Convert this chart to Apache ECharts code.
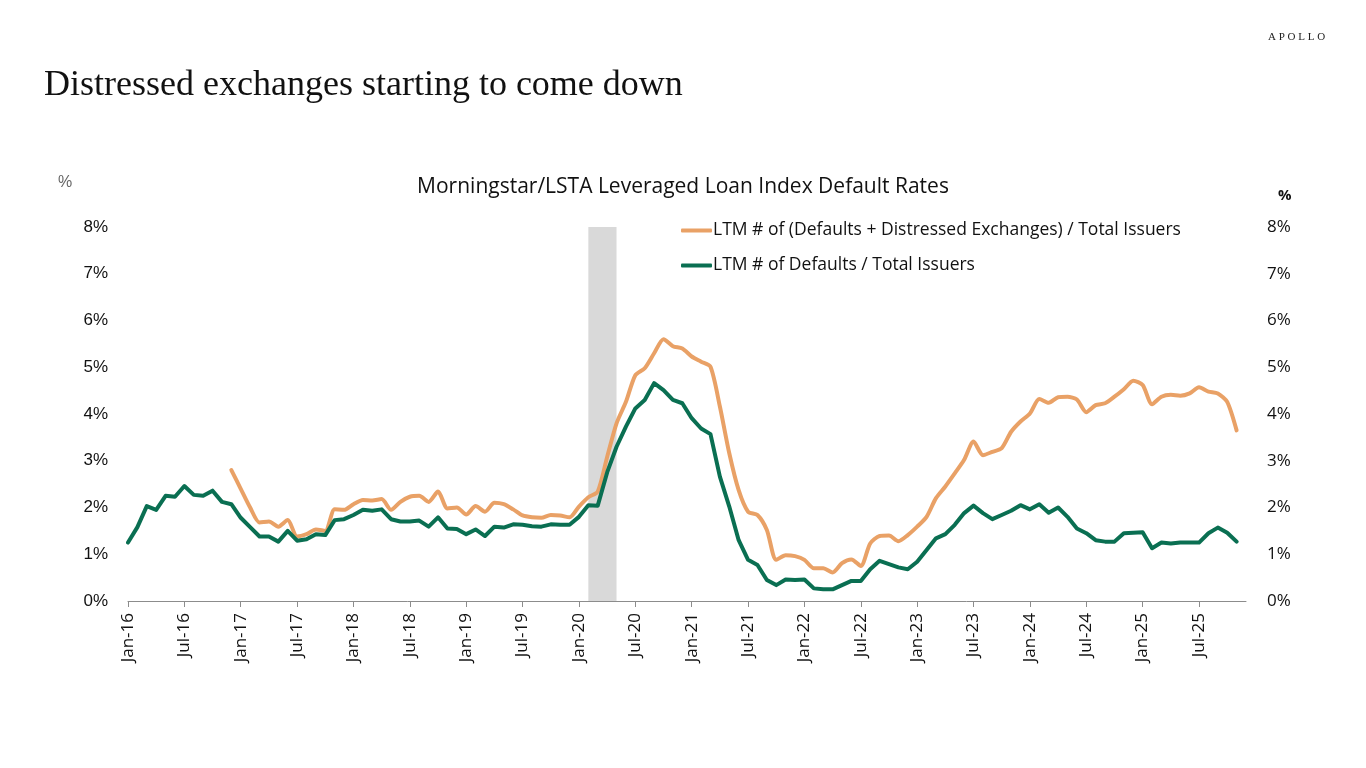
<!DOCTYPE html>
<html>
<head>
<meta charset="utf-8">
<title>Distressed exchanges starting to come down</title>
<script src="https://cdn.jsdelivr.net/npm/echarts@6/dist/echarts.min.js"></script>
<style>
    html, body { margin: 0; padding: 0; background: #fff; }
    #main { width: 1366px; height: 768px; }
</style>
</head>
<body>
<div id="main"></div>
<script>
// month labels Jan-16 .. Dec-25
var monthNames = ['Jan','Feb','Mar','Apr','May','Jun','Jul','Aug','Sep','Oct','Nov','Dec'];
var years = ['16','17','18','19','20','21','22','23','24','25'];
var categories = [];
years.forEach(function(y){
    monthNames.forEach(function(m){ categories.push(m + '-' + y); });
});

// LTM # of Defaults / Total Issuers (Jan-16 ..)
var defaultsRate = [
    1.25, 1.58, 2.03, 1.95, 2.25, 2.23, 2.46, 2.27, 2.25, 2.36,
    2.12, 2.07, 1.78, 1.58, 1.38, 1.38, 1.27, 1.50, 1.29, 1.32,
    1.43, 1.41, 1.73, 1.75, 1.84, 1.95, 1.93, 1.96, 1.75, 1.70,
    1.70, 1.72, 1.59, 1.79, 1.55, 1.54, 1.43, 1.53, 1.39, 1.59,
    1.57, 1.64, 1.63, 1.60, 1.59, 1.64, 1.63, 1.63, 1.80, 2.05,
    2.04, 2.75, 3.30, 3.73, 4.12, 4.30, 4.66, 4.51, 4.30, 4.23,
    3.91, 3.69, 3.57, 2.66, 2.02, 1.30, 0.88, 0.77, 0.45, 0.34,
    0.46, 0.45, 0.46, 0.27, 0.25, 0.25, 0.34, 0.43, 0.43, 0.68,
    0.86, 0.79, 0.72, 0.68, 0.84, 1.09, 1.34, 1.43, 1.63, 1.88,
    2.04, 1.88, 1.75, 1.84, 1.93, 2.05, 1.96, 2.07, 1.89, 2.00,
    1.80, 1.55, 1.45, 1.30, 1.27, 1.27, 1.45, 1.46, 1.47, 1.13,
    1.25, 1.23, 1.25, 1.25, 1.25, 1.45, 1.57, 1.46, 1.27
];

// LTM # of (Defaults + Distressed Exchanges) / Total Issuers, starts Dec-16
var distressedRate = [
    null, null, null, null, null, null, null, null, null, null, null,
    2.80, 2.40, 2.00, 1.68, 1.70, 1.59, 1.73, 1.38, 1.43, 1.53,
    1.50, 1.96, 1.95, 2.07, 2.16, 2.15, 2.18, 1.95, 2.12, 2.23,
    2.25, 2.12, 2.34, 1.98, 2.00, 1.85, 2.03, 1.91, 2.10, 2.07,
    1.96, 1.83, 1.79, 1.78, 1.84, 1.83, 1.79, 2.02, 2.22, 2.34,
    3.08, 3.80, 4.26, 4.83, 4.98, 5.30, 5.60, 5.45, 5.40, 5.23,
    5.12, 5.01, 4.16, 3.16, 2.37, 1.91, 1.84, 1.52, 0.88, 0.98,
    0.96, 0.88, 0.70, 0.70, 0.61, 0.81, 0.89, 0.75, 1.23, 1.39,
    1.40, 1.28, 1.41, 1.59, 1.80, 2.20, 2.45, 2.73, 3.02, 3.41,
    3.12, 3.19, 3.27, 3.62, 3.84, 4.01, 4.32, 4.24, 4.36, 4.37,
    4.31, 4.04, 4.19, 4.23, 4.37, 4.53, 4.71, 4.62, 4.21, 4.37,
    4.41, 4.39, 4.44, 4.57, 4.48, 4.44, 4.26, 3.65
];

// recession shading
var recessionStart = 'Feb-20';
var recessionEnd = 'May-20';

var seriesNames = ['LTM # of (Defaults + Distressed Exchanges) / Total Issuers', 'LTM # of Defaults / Total Issuers'];

var orange = '#E9A166';
var green = '#0A6F52';

var chart = echarts.init(document.getElementById('main'));
var option = {
    animation: false,
    backgroundColor: '#fff',
    title: {
        text: 'Morningstar/LSTA Leveraged Loan Index Default Rates',
        left: 'center',
        top: 172,
        textStyle: { fontFamily: 'Open Sans', fontSize: 21, fontWeight: 'normal', color: '#111' }
    },
    graphic: [
        {
            type: 'text', left: 44, top: 68,
            style: { text: 'Distressed exchanges starting to come down', font: '36px "Liberation Serif"', fill: '#111' }
        },
        {
            type: 'text', left: 1268, top: 32,
            style: { text: 'A P O L L O', font: '11px "Liberation Serif"', fill: '#222' }
        },
        {
            type: 'text', left: 58, top: 175,
            style: { text: '%', font: '16px "Liberation Sans"', fill: '#666' }
        },
        {
            type: 'text', left: 1278, top: 188,
            style: { text: '%', font: 'bold 15px "Open Sans"', fill: '#111' }
        }
    ],
    legend: {
        data: seriesNames,
        orient: 'vertical',
        left: 676,
        top: 215,
        itemGap: 14,
        itemWidth: 31,
        itemHeight: 4,
        icon: 'roundRect',
        textStyle: { fontFamily: 'Open Sans', fontSize: 17.5, color: '#111', lineHeight: 21, padding: [0, 0, 0, -4] }
    },
    grid: { left: 128, right: 120, top: 227, bottom: 167 },
    xAxis: {
        type: 'category',
        data: categories,
        boundaryGap: false,
        axisLine: { lineStyle: { color: '#8c8c8c', width: 1 } },
        axisTick: { interval: 5, length: 6, lineStyle: { color: '#8c8c8c' } },
        axisLabel: { interval: 5, rotate: 90, margin: 12, fontFamily: 'Open Sans', fontSize: 17, color: '#111' },
        splitLine: { show: false }
    },
    yAxis: [
        {
            type: 'value', min: 0, max: 8, interval: 1,
            axisLine: { show: false }, axisTick: { show: false }, splitLine: { show: false },
            axisLabel: { formatter: '{value}%', margin: 20, fontFamily: 'Liberation Sans', fontSize: 17, color: '#111' }
        },
        {
            type: 'value', min: 0, max: 8, interval: 1, position: 'right',
            axisLine: { show: false }, axisTick: { show: false }, splitLine: { show: false },
            axisLabel: { formatter: '{value}%', margin: 21, fontFamily: 'Open Sans', fontSize: 17, color: '#111' }
        }
    ],
    series: [
        {
            name: 'recession',
            type: 'line',
            data: [],
            z: 1,
            silent: true,
            markArea: {
                silent: true,
                itemStyle: { color: '#D9D9D9' },
                data: [[{ xAxis: recessionStart }, { xAxis: recessionEnd }]]
            }
        },
        {
            name: seriesNames[0],
            type: 'line',
            data: distressedRate,
            z: 3,
            symbol: 'none',
            smooth: 0.25,
            connectNulls: false,
            itemStyle: { color: orange },
            lineStyle: { color: orange, width: 4, join: 'round', cap: 'round' }
        },
        {
            name: seriesNames[1],
            type: 'line',
            data: defaultsRate,
            z: 4,
            symbol: 'none',
            itemStyle: { color: green },
            lineStyle: { color: green, width: 4, join: 'round', cap: 'round' }
        }
    ]
};
chart.setOption(option);
</script>
</body>
</html>
